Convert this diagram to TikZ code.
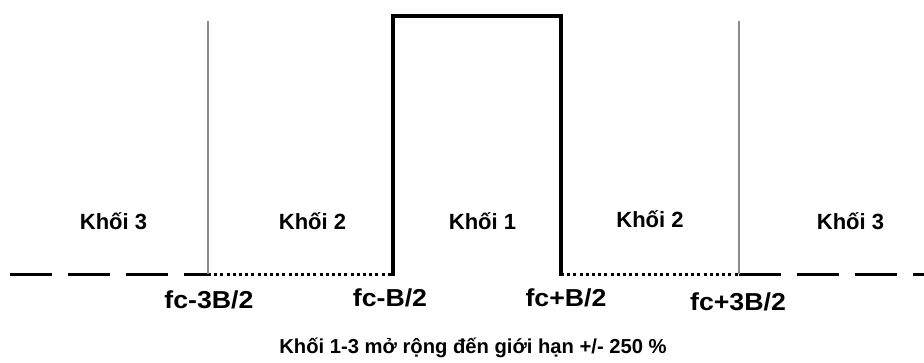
\documentclass[tikz,border=0pt]{standalone}
\usepackage{fontspec}
\setmainfont{Liberation Sans}
\newcommand{\widefc}[1]{\scalebox{1.09}[1]{#1}}
\begin{document}
\begin{tikzpicture}[x=1pt,y=-1pt,
  thickline/.style={line width=4pt, line cap=rect, line join=miter},
  grayline/.style={draw=black!45, line width=1.5pt},
  dashline/.style={line width=3pt, dash pattern=on 42pt off 16pt},
  dotline/.style={line width=3pt, dash pattern=on 3pt off 3.2pt},
  blocklabel/.style={font=\bfseries\fontsize{22}{26}\selectfont, anchor=base, inner sep=0pt},
  freqlabel/.style={font=\bfseries\fontsize{24.5}{29}\selectfont, anchor=base, inner sep=0pt},
  caption/.style={font=\bfseries\fontsize{20.2}{24}\selectfont, anchor=base, inner sep=0pt}]
\useasboundingbox (0,0) rectangle (924,362);
% key coordinates
\coordinate (L0) at (10,274);
\coordinate (L1) at (208,274);
\coordinate (L2) at (393,274);
\coordinate (L3) at (561,274);
\coordinate (L4) at (739,274);
\coordinate (L5) at (924,274);
\coordinate (T1) at (208,21);
\coordinate (T2) at (393,15.5);
\coordinate (T3) at (561,15.5);
\coordinate (T4) at (739,21);
% baseline pieces
\draw[dashline] (L0) -- (L1);
\draw[dotline] (L1) -- (L2);
\draw[dotline] (L3) -- (L4);
\draw[dashline] (L4) -- (L5);
% gray band edges
\draw[grayline] (T1) -- (L1);
\draw[grayline] (T4) -- (L4);
% central block
\draw[thickline] (L2) -- (T2) -- (T3) -- (L3);
% labels
\node[blocklabel] (k3l) at (113.5,229.5) {Khối 3};
\node[blocklabel] (k2l) at (312.5,229.5) {Khối 2};
\node[blocklabel] (k1) at (482.5,229.5) {Khối 1};
\node[blocklabel] (k2r) at (650,227) {Khối 2};
\node[blocklabel] (k3r) at (850.5,229.5) {Khối 3};
\node[freqlabel] (f1) at (209,308) {\widefc{fc-3B/2}};
\node[freqlabel] (f2) at (390,306.5) {\widefc{fc-B/2}};
\node[freqlabel] (f3) at (566,306.5) {\widefc{fc+B/2}};
\node[freqlabel] (f4) at (738,310) {\widefc{fc+3B/2}};
\node[caption] (cap) at (473,353) {Khối 1-3 mở rộng đến giới hạn +/- 250 \%};
\end{tikzpicture}
\end{document}
